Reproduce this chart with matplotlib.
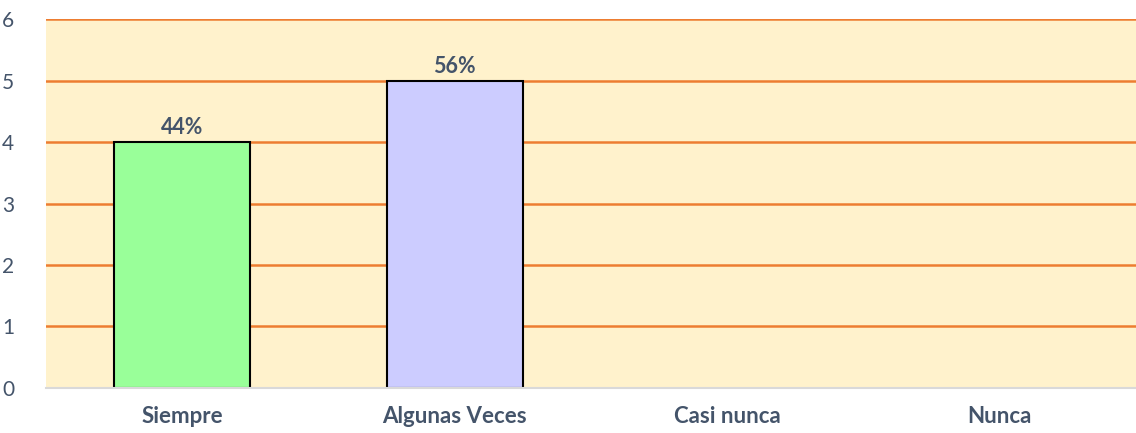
import matplotlib.pyplot as plt
import numpy as np

categorias = ['Siempre', 'Algunas Veces', 'Casi nunca', 'Nunca']
valores = [4, 5, 0, 0]
etiquetas = ['44%', '56%', '', '']
colores = ['#99FF99', '#CCCCFF', '#99FF99', '#CCCCFF']

texto = '#44546A'
plt.rcParams['font.family'] = ['Lato', 'DejaVu Sans']

fig = plt.figure(figsize=(11.36, 4.33), dpi=100)
ax = fig.add_axes([0.0405, 0.104, 0.9595, 0.852])
ax.set_facecolor('#FFF2CC')

x = np.arange(len(categorias))
ax.bar(x[:2], valores[:2], width=0.5, color=colores[:2],
       edgecolor='black', linewidth=1.5, zorder=3)

for xi, v, et in zip(x, valores, etiquetas):
    if et:
        ax.text(xi, v + 0.06, et, ha='center', va='bottom', fontsize=15.5,
                fontweight='bold', color=texto, zorder=4)

ax.set_xlim(-0.5, 3.5)
ax.set_ylim(0, 6)
ax.set_yticks(range(0, 7))
ax.yaxis.grid(True, color='#ED7D31', linewidth=1.8, zorder=1)
ax.set_axisbelow(True)

ax.set_xticks(x)
ax.set_xticklabels(categorias, fontsize=16, fontweight='bold', color=texto)
ax.tick_params(axis='x', length=0, pad=13)
ax.tick_params(axis='y', length=0, pad=23, labelsize=15, labelcolor=texto)

for s in ['top', 'right', 'left']:
    ax.spines[s].set_visible(False)
ax.spines['bottom'].set_color('#D9D9D9')
ax.spines['bottom'].set_linewidth(1.5)
ax.spines['bottom'].set_zorder(5)

fig.savefig('out.png', dpi=100, facecolor='white')
